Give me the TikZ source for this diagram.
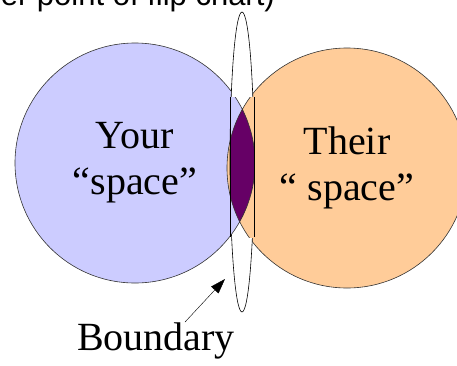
\documentclass[tikz,border=0pt]{standalone}
\usepackage{fontspec}
\setmainfont{Liberation Serif}
\newfontfamily\headfont{Liberation Sans}
\usetikzlibrary{arrows.meta,positioning,calc}
\definecolor{yourblue}{HTML}{CCCCFF}
\definecolor{theirpeach}{HTML}{FFCC99}
\definecolor{overlap}{HTML}{660066}
\begin{document}
\begin{tikzpicture}[x=1pt, y=-1pt, >=Latex,
  space/.style={circle, draw=black!80, line width=0.6pt, minimum size=240pt, inner sep=0pt, align=center, font=\fontsize{40}{46}\selectfont},
  lbl/.style={inner sep=0pt, font=\fontsize{40}{46}\selectfont}]
  \clip (0,0) rectangle (457,365);
  \node[inner sep=0pt, anchor=base east, font=\headfont\fontsize{31}{36}\selectfont] (head) at (275,5) {er point of flip chart)};
  % the two spaces
  \node[space, fill=yourblue] (your) at (135,163) {Your\\“space”};
  \node[space, fill=theirpeach] (their) at (347,168) {Their\\“ space”};
  % boundary ellipse, with the overlap strip on top
  \draw[line width=0.6pt, fill=white] (242,162) ellipse[x radius=12pt, y radius=150pt];
  \begin{scope}
    \clip (230,97) rectangle (254,237);
    \fill[yourblue] (your.center) circle[radius=120pt];
    \fill[theirpeach] (their.center) circle[radius=120pt];
    \begin{scope}
      \clip (your.center) circle[radius=120pt];
      \fill[overlap] (their.center) circle[radius=120pt];
    \end{scope}
    \draw[black!80, line width=0.6pt] (your.center) circle[radius=120pt] (their.center) circle[radius=120pt];
  \end{scope}
  \draw[line width=0.7pt] (230,97) -- (230,237) (254,97) -- (254,237);
  \node[lbl, anchor=base] (bnd) at (156,350) {Boundary};
  \coordinate (tip) at (225,279);
  \draw[line width=0.4pt, -{Triangle[length=15pt, width=10pt]}] ([xshift=29pt]bnd.north) -- (tip);
\end{tikzpicture}
\end{document}
